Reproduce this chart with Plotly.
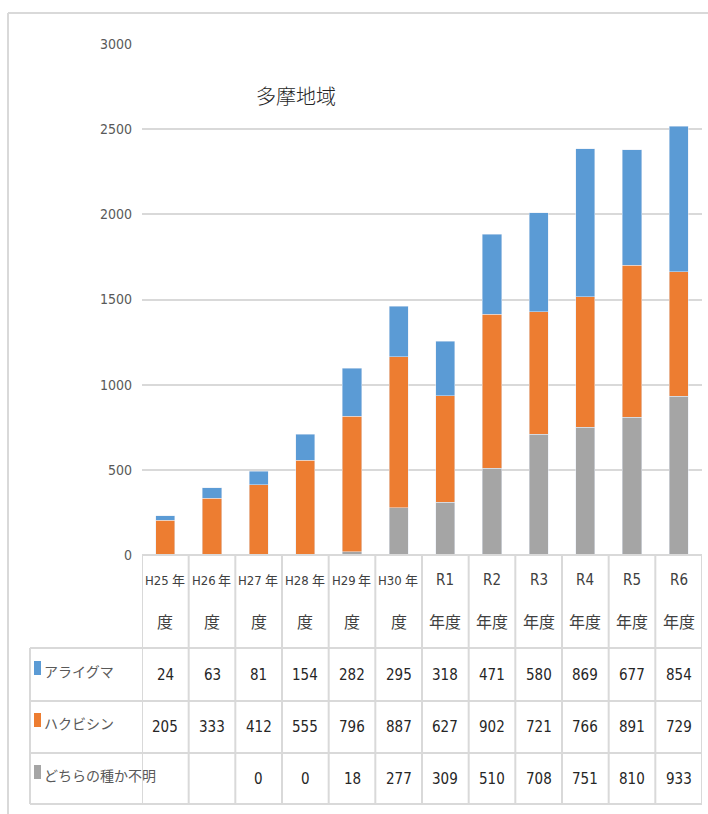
import plotly.graph_objects as go

W, H = 708, 814

categories = ["H25年度", "H26年度", "H27年度", "H28年度", "H29年度", "H30年度",
              "R1年度", "R2年度", "R3年度", "R4年度", "R5年度", "R6年度"]
header_line1 = ["H25 年", "H26 年", "H27 年", "H28 年", "H29 年", "H30 年",
                "R1", "R2", "R3", "R4", "R5", "R6"]
header_line2 = ["度", "度", "度", "度", "度", "度",
                "年度", "年度", "年度", "年度", "年度", "年度"]

araiguma = [24, 63, 81, 154, 282, 295, 318, 471, 580, 869, 677, 854]
hakubishin = [205, 333, 412, 555, 796, 887, 627, 902, 721, 766, 891, 729]
fumei = [None, None, 0, 0, 18, 277, 309, 510, 708, 751, 810, 933]

series_names = ["アライグマ", "ハクビシン", "どちらの種か不明"]
colors = ["#5B9BD5", "#ED7D31", "#A5A5A5"]

y_ticks = [0, 500, 1000, 1500, 2000, 2500, 3000]
title_text = "多摩地域"

NUM_FONT = "Liberation Sans Narrow, DejaVu Sans Condensed, Arial Narrow, Liberation Sans, Noto Sans CJK JP, sans-serif"
JP_FONT = "Noto Sans CJK JP, sans-serif"
GRID = "#d9d9d9"


def px(x):
    return x / W


def py(y):
    return 1 - y / H


fig = go.Figure()
# stack: gray bottom, orange middle, blue top
fig.add_trace(go.Bar(x=categories, y=fumei, name=series_names[2], marker_color=colors[2]))
fig.add_trace(go.Bar(x=categories, y=hakubishin, name=series_names[1], marker_color=colors[1]))
fig.add_trace(go.Bar(x=categories, y=araiguma, name=series_names[0], marker_color=colors[0]))

x0, x1 = 142, 702
y_top, y_zero = 44, 555

fig.update_layout(
    width=W, height=H, autosize=False,
    margin=dict(l=0, r=0, t=0, b=0, pad=0, autoexpand=False),
    paper_bgcolor="white", plot_bgcolor="white",
    barmode="stack", bargap=0.59,
    showlegend=False,
    xaxis=dict(type="category", domain=[px(x0), px(x1)], range=[-0.5, 11.5],
               showticklabels=False, showgrid=False, zeroline=False, showline=False,
               fixedrange=True),
    yaxis=dict(domain=[py(y_zero), py(y_top)], range=[0, 3000], tickvals=y_ticks,
               showgrid=True, gridcolor=GRID, gridwidth=1.5, zeroline=False,
               showline=False, ticks="", ticklabelstandoff=9,
               tickfont=dict(family=NUM_FONT, size=14, color="#595959")),
)

shapes = []
# outer frame
shapes.append(dict(type="line", xref="paper", yref="paper", x0=px(8), x1=1, y0=py(13), y1=py(13),
                   line=dict(color=GRID, width=2)))
shapes.append(dict(type="line", xref="paper", yref="paper", x0=px(8), x1=px(8), y0=py(13), y1=0,
                   line=dict(color=GRID, width=2)))

# table horizontal lines
row_lines = [555, 648, 701, 753, 804]
for i, yy in enumerate(row_lines):
    xl = x0 if i == 0 else 30
    shapes.append(dict(type="line", xref="paper", yref="paper", x0=px(xl), x1=px(x1),
                       y0=py(yy), y1=py(yy), line=dict(color=GRID, width=2)))
# table vertical lines
for k in range(len(categories) + 1):
    shapes.append(dict(type="line", xref="x", yref="paper", x0=k - 0.5, x1=k - 0.5,
                       y0=py(555), y1=py(804), line=dict(color=GRID, width=2)))
shapes.append(dict(type="line", xref="paper", yref="paper", x0=px(30), x1=px(30),
                   y0=py(648), y1=py(804), line=dict(color=GRID, width=2)))

annotations = []
annotations.append(dict(text=title_text, xref="paper", yref="paper", x=px(296), y=py(96),
                        showarrow=False,
                        font=dict(family=JP_FONT, size=20, color="#262626", weight=300),
                        xanchor="center", yanchor="middle"))

col_w = (x1 - x0) / len(categories)
for i, cat in enumerate(categories):
    l1 = header_line1[i]
    if " " in l1:
        a, b = l1.split(" ")
        cl = x0 + i * col_w
        annotations.append(dict(text=a, xref="paper", yref="paper", x=px(cl + 1), y=py(580),
                                xanchor="left", yanchor="middle", showarrow=False,
                                font=dict(family=NUM_FONT, size=13, color="#404040")))
        annotations.append(dict(text=b, xref="paper", yref="paper", x=px(cl + col_w - 2), y=py(579),
                                xanchor="right", yanchor="middle", showarrow=False,
                                font=dict(family=JP_FONT, size=13, color="#404040")))
    else:
        annotations.append(dict(text=l1, xref="x", yref="paper", x=cat, y=py(580),
                                xanchor="center", yanchor="middle", showarrow=False,
                                font=dict(family=NUM_FONT, size=15, color="#404040")))
    annotations.append(dict(text=header_line2[i], xref="x", yref="paper", x=cat, y=py(621),
                            xanchor="center", yanchor="middle", showarrow=False,
                            font=dict(family=JP_FONT, size=16, color="#404040")))

row_centers = [675, 727, 779]
row_data = [araiguma, hakubishin, fumei]
for r, (vals, name, col) in enumerate(zip(row_data, series_names, colors)):
    yc = row_centers[r]
    shapes.append(dict(type="rect", xref="paper", yref="paper", x0=px(34), x1=px(41),
                       y0=py(yc - 14), y1=py(yc), fillcolor=col, line=dict(width=0)))
    annotations.append(dict(text=name, xref="paper", yref="paper", x=px(42), y=py(yc - 4),
                            xanchor="left", yanchor="middle", showarrow=False,
                            font=dict(family=JP_FONT, size=14, color="#595959")))
    for i, cat in enumerate(categories):
        v = vals[i]
        if v is None:
            continue
        annotations.append(dict(text=str(v), xref="x", yref="paper", x=cat, y=py(yc),
                                xanchor="center", yanchor="middle", showarrow=False,
                                font=dict(family=NUM_FONT, size=15, color="#262626")))

fig.update_layout(shapes=shapes, annotations=annotations)
fig.write_html("out.html",
               config={"responsive": False, "displayModeBar": False},
               post_script="document.body.style.margin='0';document.body.style.overflow='hidden';")
